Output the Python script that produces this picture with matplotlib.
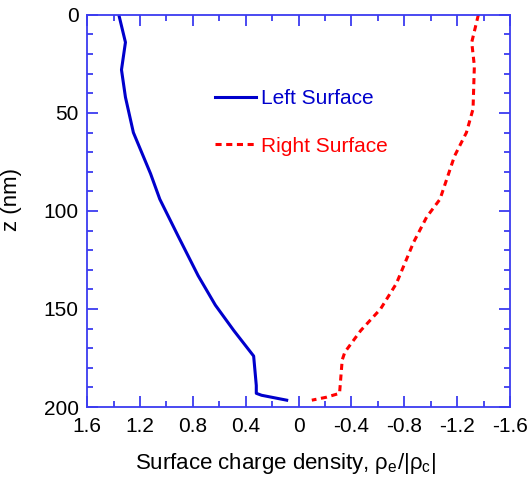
import numpy as np
import matplotlib.pyplot as plt
from matplotlib.ticker import MultipleLocator

plt.rcParams['font.family'] = ['Liberation Sans', 'DejaVu Sans']

# Left surface (blue solid)
z_left = [0, 14, 28, 42, 60, 81, 94, 113, 133, 148, 161, 174, 189, 193, 194, 196.5]
rho_left = [1.36, 1.31, 1.34, 1.31, 1.25, 1.12, 1.05, 0.91, 0.76, 0.63, 0.49, 0.34, 0.32, 0.32, 0.28, 0.09]

# Right surface (red dashed)
z_right = [0, 14, 26, 48, 60, 72, 94, 103, 116, 137, 150, 161, 172, 176, 193, 195, 196.5]
rho_right = [-1.36, -1.31, -1.33, -1.32, -1.27, -1.18, -1.07, -0.97, -0.87, -0.74, -0.62,
             -0.47, -0.35, -0.33, -0.31, -0.21, -0.10]

axis_color = '#3c3cf0'

fig = plt.figure(figsize=(5.28, 4.8), dpi=100)
ax = fig.add_axes([0.165, 0.152, 0.801, 0.817])

ax.plot(rho_left, z_left, color='#0000cc', lw=2.2, label='Left Surface')
ax.plot(rho_right, z_right, color='#ff0000', lw=2.2, dashes=(2.0, 1.5), label='Right Surface')

ax.set_xlim(1.6, -1.6)
ax.set_ylim(200, 0)
ax.xaxis.set_major_locator(MultipleLocator(0.4))
ax.xaxis.set_minor_locator(MultipleLocator(0.2))
ax.yaxis.set_major_locator(MultipleLocator(50))
ax.yaxis.set_minor_locator(MultipleLocator(10))
ax.set_xticks([1.6, 1.2, 0.8, 0.4, 0, -0.4, -0.8, -1.2, -1.6])
ax.set_xticklabels(['1.6', '1.2', '0.8', '0.4', '0', '-0.4', '-0.8', '-1.2', '-1.6'])

for s in ax.spines.values():
    s.set_color(axis_color)
    s.set_linewidth(1.3)
ax.tick_params(which='both', direction='in', top=True, right=True, color=axis_color,
               width=1.3, labelsize=15)
ax.tick_params(axis='x', pad=7)
ax.tick_params(axis='y', pad=6)
ax.tick_params(which='major', length=8)
ax.tick_params(which='minor', length=4)

ax.set_xlabel('Surface charge density, ρ$_\\mathregular{e}$/|ρ$_\\mathregular{c}$|', fontsize=16)
ax.xaxis.set_label_coords(0.47, -0.112)
ax.set_ylabel('z (nm)', fontsize=16)
ax.yaxis.set_label_coords(-0.155, 0.53)

leg = ax.legend(loc='upper left', bbox_to_anchor=(0.303, 0.81), frameon=False, fontsize=15,
                handlelength=1.95, handletextpad=0.25, labelspacing=1.35, borderpad=0,
                borderaxespad=0, labelcolor='linecolor')

fig.savefig('out.png', dpi=100)
